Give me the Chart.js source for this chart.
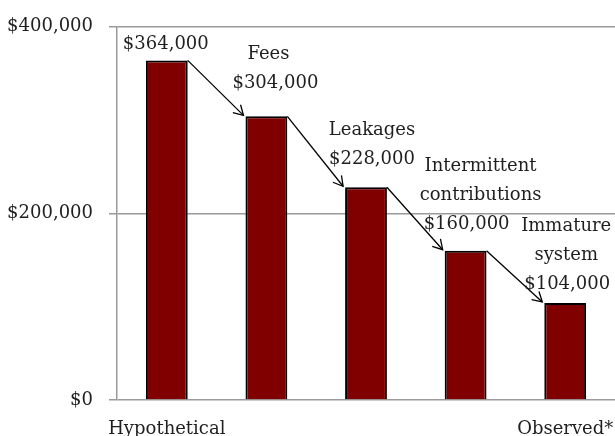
<!DOCTYPE html>
<html>
<head>
<meta charset="utf-8">
<script src="https://cdn.jsdelivr.net/npm/chart.js@4"></script>
<style>
  html, body { margin: 0; padding: 0; background: #fff; }
  #wrap { width: 615px; height: 436px; }
</style>
</head>
<body>
<div id="wrap"><canvas id="chart" width="615" height="436"></canvas></div>
<script>
// --- chart data ---
const categories = ["Hypothetical", "", "", "", "Observed*"];
const values = [364000, 304000, 228000, 160000, 104000];
const stepNames = [[], ["Fees"], ["Leakages"], ["Intermittent", "contributions"], ["Immature", "system"]];
const yTicks = [0, 200000, 400000];

// --- label placement (pixels, relative to bar centre / bar top) ---
const nameDx = [0, 2, 6, 15, 1];
const valueDx = [-1, 9, 6, 1, 2];
const valueDy = [-16, -33, -28, -26, -19];
const LINE_GAP = 29;

const FONT = "DejaVu Serif";
const TEXT = "#1f1f1f";
const GRID = "#9a9a9a";

const money = (v) => "$" + v.toLocaleString("en-US");

// === arrows + callout text ===
const stepLabels = {
  id: "stepLabels",
  afterDatasetsDraw(chart) {
    const ctx = chart.ctx;
    const bars = chart.getDatasetMeta(0).data;
    ctx.save();

    // arrows from top-right of one bar to top-left of the next
    ctx.strokeStyle = "#000";
    ctx.lineWidth = 1.3;
    for (let i = 0; i < bars.length - 1; i++) {
      const a = bars[i], b = bars[i + 1];
      const x1 = a.x + a.width / 2, y1 = a.y;
      const x2 = b.x - b.width / 2 - 2, y2 = b.y - 1;
      ctx.beginPath();
      ctx.moveTo(x1, y1);
      ctx.lineTo(x2, y2);
      ctx.stroke();
      const ang = Math.atan2(y2 - y1, x2 - x1);
      const len = 11, spread = Math.PI / 6;
      ctx.beginPath();
      ctx.moveTo(x2 - len * Math.cos(ang - spread), y2 - len * Math.sin(ang - spread));
      ctx.lineTo(x2, y2);
      ctx.lineTo(x2 - len * Math.cos(ang + spread), y2 - len * Math.sin(ang + spread));
      ctx.stroke();
    }

    // text
    ctx.fillStyle = TEXT;
    ctx.font = `18px "${FONT}"`;
    ctx.textAlign = "center";
    ctx.textBaseline = "middle";
    bars.forEach((bar, i) => {
      const vy = bar.y + valueDy[i];
      ctx.fillText(money(values[i]), bar.x + valueDx[i], vy);
      const names = stepNames[i];
      names.forEach((line, j) => {
        const ly = vy - (names.length - j) * LINE_GAP;
        ctx.fillText(line, bar.x + nameDx[i], ly);
      });
    });
    ctx.restore();
  },
};

new Chart(document.getElementById("chart"), {
  type: "bar",
  data: {
    labels: categories,
    datasets: [
      {
        data: values,
        backgroundColor: "#800000",
        borderColor: "#000",
        borderWidth: 2,
        borderSkipped: "bottom",
        barPercentage: 0.42,
        categoryPercentage: 1,
      },
    ],
  },
  options: {
    responsive: false,
    animation: false,
    layout: { padding: { top: 22, right: 0, left: 0, bottom: 0 } },
    plugins: {
      legend: { display: false },
      tooltip: { enabled: false },
    },
    scales: {
      y: {
        min: 0,
        max: 400000,
        afterBuildTicks: (scale) => {
          scale.ticks = yTicks.map((v) => ({ value: v }));
        },
        afterFit: (scale) => { scale.width = 117; },
        ticks: {
          callback: (v) => money(v),
          color: TEXT,
          font: { family: FONT, size: 18 },
          padding: 16,
        },
        grid: { color: GRID, lineWidth: 1.5, tickLength: 8 },
        border: { color: GRID, width: 1.5 },
      },
      x: {
        afterFit: (scale) => {
          scale.height = 36;
          scale.paddingLeft = 0;
          scale.paddingRight = 0;
        },
        ticks: {
          color: TEXT,
          font: { family: FONT, size: 18 },
          padding: 11,
          maxRotation: 0,
          autoSkip: false,
        },
        grid: { display: false },
        border: { display: false },
      },
    },
  },
  plugins: [stepLabels],
});
</script>
</body>
</html>
